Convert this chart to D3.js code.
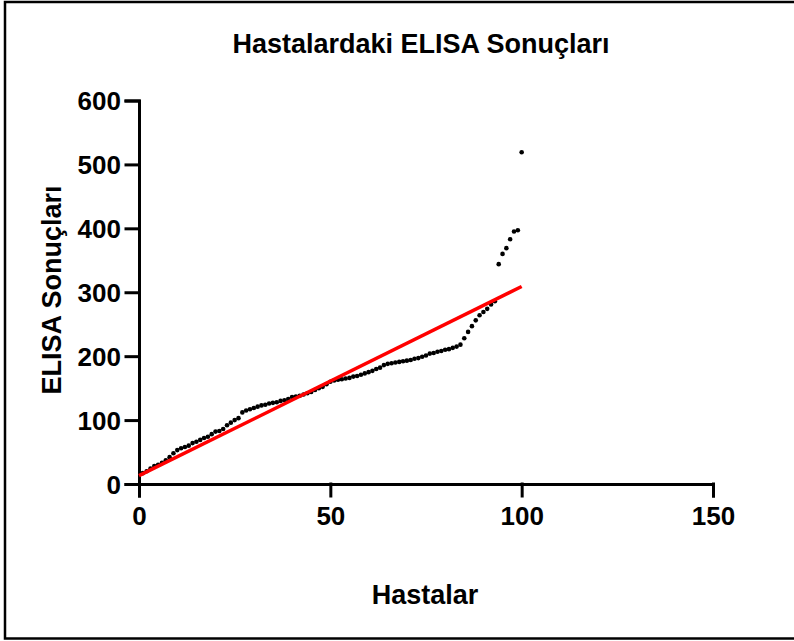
<!DOCTYPE html>
<html>
<head>
<meta charset="utf-8">
<script src="https://cdn.jsdelivr.net/npm/d3@7"></script>
<style>
body { margin: 0; background: #fff; }
svg { display: block; font-family: "Liberation Sans", Arial, sans-serif; font-weight: bold; }
</style>
</head>
<body>
<div id="graph"></div>
<script>
// ELISA values per patient, patient n = index + 1
var elisa = [17, 20, 24, 28, 30, 33, 37, 42, 48, 53,
	56, 58, 60, 64, 66, 69, 72, 74, 78, 82,
	83, 86, 92, 96, 100, 103, 112, 115, 117, 119,
	121, 123, 124, 126, 127, 128, 130, 131, 133, 136,
	137, 138, 140, 142, 144, 147, 150, 152, 156, 160,
	162, 163, 164, 165, 166, 168, 169, 171, 173, 175,
	177, 180, 182, 186, 188, 189, 190, 191, 192, 193,
	194, 196, 197, 199, 201, 204, 205, 207, 208, 210,
	211, 213, 215, 218, 228, 238, 247, 256, 264, 269,
	274, 281, 286, 344, 360, 369, 383, 395, 397, 519]
var patients = elisa.map(function(d, i) { return i + 1 })

// fitted line ends
var fitX = [0, 100]
var fitY = [13, 309]

var xTicks = [0, 50, 100, 150]
var yTicks = [0, 100, 200, 300, 400, 500, 600]

var title = 'Hastalardaki ELISA Sonuçları'
var xLabel = 'Hastalar'
var yLabel = 'ELISA Sonuçları'

var width = 794
var height = 641

var svg = d3.select('#graph').append('svg')
	.attr('width', width)
	.attr('height', height)

// frame
svg.append('rect')
	.attr('x', 5).attr('y', 2)
	.attr('width', 820).attr('height', 636.5)
	.attr('fill', 'none')
	.attr('stroke', '#000')
	.attr('stroke-width', 2.5)

var xScale = d3.scaleLinear().domain([0, 150]).range([139, 713])
var yScale = d3.scaleLinear().domain([0, 600]).range([484, 100.5])

var xAxis = svg.append('g')
	.attr('transform', 'translate(0,' + yScale(0) + ')')
	.call(d3.axisBottom(xScale).tickValues(xTicks).tickSizeOuter(0).tickSize(12).tickPadding(10))

var yAxis = svg.append('g')
	.attr('transform', 'translate(' + xScale(0) + ',0)')
	.call(d3.axisLeft(yScale).tickValues(yTicks).tickSizeOuter(0).tickSize(13).tickPadding(5))

svg.selectAll('.domain, .tick line')
	.attr('stroke', '#000')
	.attr('stroke-width', 3)
	.attr('stroke-linecap', 'square')
svg.selectAll('.tick text')
	.attr('fill', '#000')
	.style('font-size', '26px')
	.style('font-weight', 'bold')
	.style('font-family', '"Liberation Sans", Arial, sans-serif')
yAxis.selectAll('.tick text').attr('dy', '0.36em')
xAxis.selectAll('.tick text').attr('dy', '0.72em')

// points
svg.selectAll('circle')
	.data(elisa)
	.enter().append('circle')
	.attr('cx', function(d, i) { return xScale(patients[i]) })
	.attr('cy', function(d) { return yScale(d) })
	.attr('r', 2.3)
	.attr('fill', '#000')

// regression line
svg.append('line')
	.attr('x1', xScale(fitX[0])).attr('y1', yScale(fitY[0]))
	.attr('x2', xScale(fitX[1])).attr('y2', yScale(fitY[1]))
	.attr('stroke', '#ff0000')
	.attr('stroke-width', 3.5)

svg.append('text')
	.attr('x', 421).attr('y', 53)
	.attr('text-anchor', 'middle')
	.style('font-size', '27px')
	.text(title)

svg.append('text')
	.attr('x', 425).attr('y', 604)
	.attr('text-anchor', 'middle')
	.style('font-size', '27px')
	.text(xLabel)

svg.append('text')
	.attr('transform', 'translate(61,290) rotate(-90)')
	.attr('text-anchor', 'middle')
	.style('font-size', '27px')
	.text(yLabel)
</script>
</body>
</html>
